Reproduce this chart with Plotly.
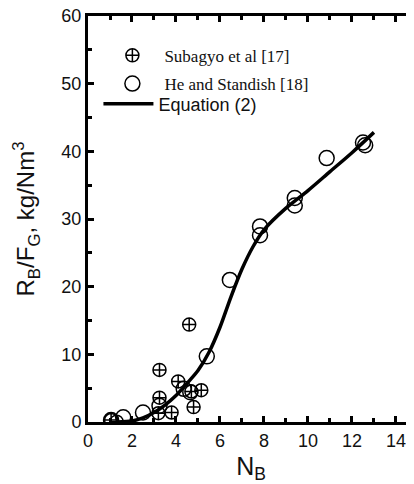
import plotly.graph_objects as go

# Subagyo et al [17]  (crossed circles)
sub_x = [4.6, 3.25, 4.1, 3.25, 5.15, 4.7, 4.8, 3.8, 3.2, 1.05, 1.3]
sub_y = [14.4, 7.7, 6.0, 3.6, 4.7, 4.5, 2.2, 1.4, 1.3, 0.3, 0.05]

# He and Standish [18]  (open circles)
he_x = [1.05, 1.6, 2.5, 3.25, 4.35, 4.65, 5.4, 6.45, 7.82, 7.82, 9.4, 9.4, 10.85, 12.5, 12.6]
he_y = [0.3, 0.7, 1.4, 2.4, 4.9, 4.4, 9.7, 21.0, 28.9, 27.6, 33.1, 32.0, 39.0, 41.3, 40.9]

# Equation (2) curve
eq_x = [1.3, 2.0, 2.5, 3.0, 3.5, 4.0, 4.5, 5.0, 5.5, 6.0, 6.5, 7.0, 7.5, 8.0, 9.0, 10.0, 11.0, 12.0, 13.0]
eq_y = [0.0, 0.15, 0.6, 1.4, 2.5, 3.9, 5.7, 7.6, 10.3, 14.0, 18.5, 22.6, 25.9, 28.4, 31.6, 34.2, 37.0, 39.8, 42.8]

x_ticks = [0, 2, 4, 6, 8, 10, 12, 14]
y_ticks = [0, 10, 20, 30, 40, 50, 60]

SANS = "Liberation Sans, Arial, sans-serif"
SERIF = "Liberation Serif, Times New Roman, serif"
INK = "#111"

fig = go.Figure()
fig.add_trace(go.Scatter(
    x=sub_x, y=sub_y, mode="markers", name="Subagyo et al [17]", legend="legend",
    marker=dict(symbol="circle-cross-open", size=13, color="black", line=dict(width=1.5, color="black")),
))
fig.add_trace(go.Scatter(
    x=he_x, y=he_y, mode="markers", name="He and Standish [18]", legend="legend2",
    marker=dict(symbol="circle-open", size=15, color="black", line=dict(width=1.5, color="black")),
))
fig.add_trace(go.Scatter(
    x=eq_x, y=eq_y, mode="lines", name="Equation (2)", legend="legend3",
    line=dict(color="black", width=3.5, shape="spline", smoothing=0.8),
))

axis_common = dict(
    showline=True, linecolor="black", linewidth=3, mirror="allticks",
    ticks="inside", ticklen=6, tickwidth=3, tickcolor="black",
    showgrid=False, zeroline=False, ticklabeloverflow="allow",
    tickfont=dict(family=SANS, size=18, color=INK),
)

def leg(x, y, font, size, iw):
    return dict(x=x, y=y, xanchor="left", yanchor="middle",
                bgcolor="rgba(0,0,0,0)", borderwidth=0,
                font=dict(family=font, size=size, color=INK), itemwidth=iw)

fig.update_layout(
    width=406, height=476,
    margin=dict(l=80, r=0, t=8, b=62),
    paper_bgcolor="white", plot_bgcolor="white",
    showlegend=True,
    legend=leg(0.038, 0.902, SERIF, 17, 54),
    legend2=leg(0.038, 0.8325, SERIF, 17, 54),
    legend3=leg(0.032, 0.783, SANS, 18, 50),
    xaxis=dict(
        range=[0, 14.82], tickvals=x_ticks, automargin=False,
        minor=dict(ticks="inside", ticklen=4, tickwidth=3, tickcolor="black", dtick=1, tick0=0),
        title=dict(text="N<sub>B</sub>", font=dict(family=SANS, size=25, color=INK), standoff=19),
        **axis_common,
    ),
    yaxis=dict(
        range=[0, 60], tickvals=y_ticks, automargin=False,
        minor=dict(ticks="inside", ticklen=4, tickwidth=3, tickcolor="black", dtick=5, tick0=0),
        title=dict(text="R<sub>B</sub>/F<sub>G</sub>, kg/Nm<sup>3</sup>", font=dict(family=SANS, size=24, color=INK), standoff=20),
        **axis_common,
    ),
)

fig.write_html("out.html")
